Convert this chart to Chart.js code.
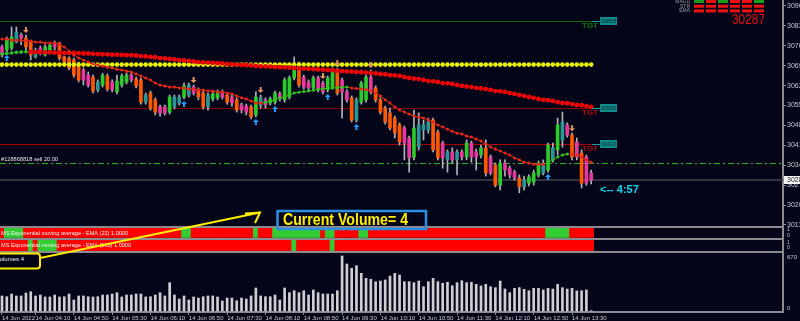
<!DOCTYPE html>
<html>
<head>
<meta charset="utf-8">
<script src="https://cdn.jsdelivr.net/npm/chart.js@4.4.1/dist/chart.umd.min.js"></script>
<style>
html, body { margin: 0; padding: 0; background: #05051a; overflow: hidden; width: 800px; height: 321px; }
#wrap { width: 815px; height: 321px; }
</style>
</head>
<body>
<div id="wrap"><canvas id="c" width="815" height="321"></canvas></div>
<script>
// M5 bars, 14 Jun 2022 03:35 .. 13:50
const opens = [
    30756, 30745, 30752, 30773, 30798, 30787, 30777, 30721, 30752, 30728,
    30745, 30770, 30770, 30721, 30717, 30710, 30693, 30675, 30657, 30650,
    30605, 30622, 30654, 30633, 30598, 30622, 30633, 30657, 30643, 30640,
    30562, 30594, 30570, 30545, 30545, 30527, 30545, 30559, 30580, 30587,
    30615, 30605, 30594, 30545, 30573, 30577, 30598, 30587, 30580, 30570,
    30552, 30548, 30545, 30517, 30552, 30570, 30559, 30562, 30591, 30570,
    30580, 30647, 30685, 30650, 30633, 30612, 30647, 30629, 30605, 30615,
    30675, 30640, 30598, 30577, 30499, 30562, 30570, 30650, 30612, 30570,
    30541, 30524, 30506, 30482, 30471, 30436, 30369, 30404, 30464, 30464,
    30499, 30457, 30418, 30359, 30387, 30359, 30387, 30369, 30418, 30387,
    30376, 30401, 30369, 30341, 30270, 30348, 30330, 30316, 30295, 30264,
    30277, 30281, 30306, 30313, 30323, 30359, 30394, 30429, 30482, 30446,
    30422, 30383, 30369, 30313
];
const highs = [
    30763, 30791, 30826, 30826, 30805, 30798, 30780, 30752, 30759, 30763,
    30770, 30777, 30773, 30724, 30721, 30717, 30703, 30682, 30668, 30657,
    30640, 30664, 30661, 30640, 30657, 30661, 30664, 30664, 30650, 30647,
    30594, 30601, 30577, 30552, 30552, 30587, 30587, 30587, 30629, 30629,
    30622, 30612, 30601, 30594, 30598, 30605, 30605, 30594, 30587, 30577,
    30559, 30555, 30552, 30598, 30587, 30577, 30580, 30601, 30598, 30647,
    30654, 30721, 30703, 30657, 30640, 30654, 30654, 30636, 30654, 30682,
    30682, 30647, 30605, 30584, 30577, 30636, 30657, 30675, 30619, 30577,
    30548, 30541, 30513, 30489, 30478, 30443, 30534, 30524, 30499, 30506,
    30506, 30464, 30425, 30394, 30401, 30394, 30394, 30429, 30425, 30397,
    30411, 30429, 30376, 30348, 30359, 30359, 30337, 30323, 30306, 30302,
    30306, 30323, 30355, 30359, 30418, 30418, 30506, 30527, 30489, 30453,
    30436, 30394, 30376, 30323
];
const lows = [
    30721, 30735, 30745, 30770, 30763, 30745, 30710, 30717, 30728, 30724,
    30738, 30745, 30710, 30693, 30675, 30650, 30633, 30622, 30615, 30594,
    30598, 30615, 30601, 30598, 30591, 30615, 30626, 30633, 30612, 30555,
    30555, 30534, 30517, 30513, 30517, 30520, 30538, 30552, 30573, 30580,
    30587, 30570, 30538, 30534, 30566, 30570, 30573, 30555, 30548, 30527,
    30524, 30517, 30503, 30510, 30541, 30541, 30552, 30555, 30566, 30562,
    30573, 30640, 30615, 30608, 30605, 30605, 30598, 30591, 30598, 30608,
    30587, 30506, 30562, 30492, 30492, 30555, 30562, 30591, 30562, 30520,
    30485, 30464, 30436, 30411, 30359, 30316, 30359, 30394, 30429, 30453,
    30387, 30359, 30330, 30316, 30348, 30306, 30359, 30359, 30351, 30323,
    30366, 30302, 30306, 30264, 30253, 30302, 30295, 30288, 30243, 30253,
    30267, 30270, 30299, 30306, 30316, 30351, 30376, 30404, 30439, 30359,
    30359, 30260, 30270, 30274
];
const closes = [
    30728, 30784, 30791, 30808, 30787, 30756, 30728, 30745, 30735, 30756,
    30763, 30756, 30717, 30703, 30682, 30657, 30640, 30640, 30622, 30601,
    30633, 30657, 30608, 30605, 30636, 30654, 30657, 30640, 30619, 30562,
    30587, 30541, 30527, 30524, 30524, 30580, 30580, 30580, 30619, 30622,
    30594, 30580, 30545, 30587, 30591, 30598, 30580, 30562, 30559, 30534,
    30534, 30527, 30510, 30580, 30577, 30552, 30573, 30594, 30573, 30640,
    30647, 30685, 30622, 30615, 30612, 30647, 30605, 30598, 30647, 30675,
    30594, 30598, 30570, 30499, 30570, 30629, 30650, 30598, 30570, 30527,
    30492, 30471, 30453, 30422, 30418, 30366, 30471, 30482, 30482, 30492,
    30394, 30366, 30366, 30387, 30359, 30387, 30369, 30418, 30369, 30369,
    30401, 30313, 30313, 30270, 30348, 30323, 30306, 30295, 30264, 30288,
    30299, 30313, 30348, 30348, 30411, 30401, 30482, 30492, 30446, 30369,
    30369, 30277, 30277, 30287
];
const volumes = [
    183, 174, 207, 183, 183, 219, 235, 183, 195, 171,
    171, 195, 171, 174, 207, 134, 183, 183, 174, 171,
    174, 195, 195, 207, 223, 171, 195, 195, 207, 207,
    171, 174, 195, 223, 183, 345, 195, 146, 183, 134,
    171, 158, 174, 183, 183, 171, 122, 158, 158, 125,
    158, 146, 183, 280, 183, 174, 174, 195, 134, 280,
    223, 247, 223, 247, 195, 256, 223, 207, 207, 207,
    247, 670, 572, 520, 552, 459, 398, 386, 357, 365,
    378, 426, 459, 438, 357, 357, 345, 365, 296, 357,
    398, 357, 337, 350, 308, 345, 369, 345, 350, 325,
    305, 325, 296, 284, 365, 268, 223, 276, 284, 264,
    247, 276, 276, 256, 276, 268, 325, 284, 268, 276,
    244, 247, 256, 4
];
// EMA (22) and slow EMA
const fastEma = [
    30784, 30784, 30780, 30780, 30780, 30777, 30777, 30773, 30773, 30770,
    30770, 30770, 30766, 30756, 30742, 30728, 30717, 30710, 30703, 30696,
    30693, 30689, 30685, 30682, 30678, 30675, 30671, 30668, 30661, 30654,
    30647, 30640, 30629, 30622, 30619, 30615, 30615, 30612, 30612, 30608,
    30608, 30605, 30605, 30601, 30601, 30598, 30598, 30594, 30591, 30584,
    30577, 30573, 30566, 30559, 30559, 30562, 30566, 30570, 30577, 30580,
    30587, 30594, 30597, 30599, 30601, 30604, 30607, 30609, 30611, 30612,
    30613, 30614, 30615, 30612, 30610, 30608, 30606, 30601, 30594, 30584,
    30570, 30559, 30545, 30534, 30527, 30520, 30513, 30510, 30506, 30499,
    30492, 30482, 30475, 30467, 30460, 30453, 30450, 30443, 30439, 30432,
    30425, 30415, 30404, 30397, 30390, 30383, 30376, 30366, 30359, 30351,
    30348, 30344, 30344, 30344, 30348, 30359, 30369, 30376, 30380, 30380,
    30376, 30369, 30359, 30351
];
const slowEma = [
    30731, 30733, 30735, 30737, 30738, 30739, 30739, 30738, 30738, 30737,
    30737, 30736, 30736, 30735, 30735, 30735, 30734, 30733, 30733, 30732,
    30731, 30730, 30730, 30729, 30729, 30728, 30727, 30727, 30726, 30724,
    30723, 30721, 30720, 30717, 30716, 30714, 30712, 30710, 30709, 30707,
    30705, 30703, 30702, 30701, 30700, 30699, 30698, 30696, 30695, 30694,
    30693, 30692, 30691, 30689, 30688, 30688, 30687, 30685, 30685, 30684,
    30683, 30682, 30681, 30680, 30679, 30678, 30677, 30676, 30675, 30674,
    30673, 30671, 30670, 30669, 30668, 30667, 30666, 30664, 30663, 30661,
    30660, 30657, 30656, 30654, 30650, 30647, 30645, 30643, 30640, 30636,
    30635, 30633, 30629, 30628, 30626, 30622, 30619, 30617, 30615, 30612,
    30610, 30608, 30605, 30601, 30600, 30598, 30594, 30591, 30587, 30584,
    30580, 30577, 30573, 30570, 30569, 30566, 30562, 30559, 30558, 30555,
    30552, 30551, 30548, 30545
];
const yellowLevel = 30694;

// bars where the two EMA strips turn green
const ema22Up = [1, 2, 3, 4, 38, 39, 53, 57, 58, 59, 60, 61, 62, 63, 64, 65, 66, 68, 69, 75, 76, 114, 115, 116, 117, 118];
const ema100Up = [6, 8, 9, 10, 11, 61, 69];

// arrow signals
const buyBars = [1, 38, 53, 57, 68, 74, 114];
const sellBars = [5, 40, 54, 67, 70, 77, 119];

// objects on the chart
const tgtLevels = [30847, 30541, 30415];
const tgtLabels = ['30858', '30550', '30422'];
const orderLevel = 30348;
const orderText = '#128868818 sell 20.00';
const timerText = '<-- 4:57';

// dashboard top right
const dashNames = ['MACD', 'STR', 'EMA'];
const dashRows = [
    [1, 0, 1, 0, 0, 1],
    [0, 0, 0, 0, 0, 0],
    [0, 0, 0, 0, 0, 0]
];

const priceTicks = [30900, 30830, 30760, 30690, 30620, 30550, 30480, 30410, 30340, 30270, 30200, 30130];
const tickIdx = [0, 7, 15, 23, 31, 39, 47, 55, 63, 71, 79, 87, 95, 103, 111, 119];
const timeLabels = ['14 Jun 2022', '14 Jun 04:10', '14 Jun 04:50', '14 Jun 05:30', '14 Jun 06:10',
    '14 Jun 06:50', '14 Jun 07:30', '14 Jun 08:10', '14 Jun 08:50', '14 Jun 09:30', '14 Jun 10:10',
    '14 Jun 10:50', '14 Jun 11:30', '14 Jun 12:10', '14 Jun 12:50', '14 Jun 13:30'];

const BG = '#05051a';
const plotH = 312;
const barPx = 4.79;
const plotW = 783;

function bandScale(top, bottom, lo, hi) {
    const per = (hi - lo) / (bottom - top);
    return { min: lo - (plotH - bottom) * per, max: hi + top * per };
}

const idx = opens.map((_, i) => i);
const lastClose = closes[closes.length - 1];
const lastVol = volumes[volumes.length - 1];

function rising(arr, i) {
    return i === 0 ? arr[1] > arr[0] : arr[i] > arr[i - 1];
}

function bodyColor(i) {
    const p = i > 0 ? i - 1 : 0;
    if (closes[i] >= opens[i]) {
        return (i > 0 && closes[i] > highs[p] - 5) ? '#2ccb2c' : '#2a9696';
    }
    return (i > 0 && closes[i] < lows[p]) ? '#ff5a00' : '#e6389e';
}

function hline(c, x0, x1, y, color, w, dash) {
    c.save();
    c.strokeStyle = color;
    c.lineWidth = w;
    c.setLineDash(dash || []);
    c.beginPath();
    const yy = Math.round(y) + (w % 2 ? 0.5 : 0);
    c.moveTo(x0, yy);
    c.lineTo(x1, yy);
    c.stroke();
    c.restore();
}

function txt(c, s, x, y, font, color, align, maxW) {
    c.save();
    c.font = font;
    c.fillStyle = color;
    c.textAlign = align || 'left';
    c.textBaseline = 'middle';
    if (maxW) c.fillText(s, x, y, maxW); else c.fillText(s, x, y);
    c.restore();
}

function arrowUp(c, x, y, col) {
    c.fillStyle = col;
    c.beginPath();
    c.moveTo(x, y);
    c.lineTo(x + 3, y + 3);
    c.lineTo(x + 1, y + 3);
    c.lineTo(x + 1, y + 6);
    c.lineTo(x - 1, y + 6);
    c.lineTo(x - 1, y + 3);
    c.lineTo(x - 3, y + 3);
    c.closePath();
    c.fill();
}

function arrowDown(c, x, y, col) {
    c.fillStyle = col;
    c.beginPath();
    c.moveTo(x, y);
    c.lineTo(x + 3, y - 3);
    c.lineTo(x + 1, y - 3);
    c.lineTo(x + 1, y - 6);
    c.lineTo(x - 1, y - 6);
    c.lineTo(x - 1, y - 3);
    c.lineTo(x - 3, y - 3);
    c.closePath();
    c.fill();
}

const decor = {
    id: 'decor',
    beforeDraw(chart) {
        const c = chart.ctx;
        c.save();
        c.fillStyle = BG;
        c.fillRect(0, 0, chart.width, chart.height);
        c.restore();
    },
    beforeDatasetsDraw(chart) {
        const c = chart.ctx, ys = chart.scales.y, a = chart.chartArea;
        const tgtColors = ['#0a6a0a', '#8a0000', '#a80000'];
        tgtLevels.forEach((v, k) => hline(c, a.left, 600, ys.getPixelForValue(v), tgtColors[k], 1));
        hline(c, a.left, a.right, ys.getPixelForValue(orderLevel), '#22b422', 1, [6, 3, 2, 3]);
        hline(c, a.left, a.right, ys.getPixelForValue(lastClose), '#34343e', 2);
    },
    afterDatasetsDraw(chart) {
        const c = chart.ctx, ys = chart.scales.y, xs = chart.scales.x, a = chart.chartArea;
        const yv = chart.scales.yVol, s1 = chart.scales.yS1, s2 = chart.scales.yS2;

        // signal arrows
        buyBars.forEach(i => arrowUp(c, xs.getPixelForValue(i), ys.getPixelForValue(lows[i]) + 2, '#1e9bff'));
        sellBars.forEach(i => arrowDown(c, xs.getPixelForValue(i), ys.getPixelForValue(highs[i]) - 2, '#e0935e'));

        // target labels
        const tgtText = ['#0a7a0a', '#b00000', '#b00000'];
        tgtLevels.forEach((v, k) => {
            const y = Math.round(ys.getPixelForValue(v));
            hline(c, 592, 600, y, '#1aa0a0', 1);
            c.fillStyle = '#0f8c8c';
            c.fillRect(600, y - 4, 17, 8);
            txt(c, tgtLabels[k], 608.5, y + 0.5, '6px "Liberation Sans"', '#02282a', 'center', 16);
            txt(c, 'TGT', 582, y + 5, 'bold 8px "Liberation Sans"', tgtText[k], 'left', 16);
        });

        // order line text and timer
        txt(c, orderText, 1, ys.getPixelForValue(orderLevel) - 3.5, '6px "Liberation Sans"', '#e4e4e4', 'left', 57);
        txt(c, timerText, 600, 190, 'bold 11px "Liberation Sans"', '#08d8f0', 'left', 42);

        // panel separators
        [227, 238.5, 252].forEach(y => hline(c, a.left, a.right, y, '#8a8a90', 2));

        // strip captions
        txt(c, 'MS Exponential moving average - EMA (22) 1.0000', 1, 233, '6px "Liberation Sans"', '#f2f2f2', 'left', 127);
        txt(c, 'MS Exponential moving average - EMA (100) 1.0000', 1, 245.5, '6px "Liberation Sans"', '#f2f2f2', 'left', 130);
        txt(c, 'Volumes ' + lastVol, -4, 259, '6px "Liberation Sans"', '#f2f2f2', 'left', 30);

        // right side labels of lower panels
        const rx = a.right + 4;
        txt(c, '1', rx, s1.getPixelForValue(1) + 2, '5px "Liberation Sans"', '#c8c8c8');
        txt(c, '0', rx, s1.getPixelForValue(0) - 2, '5px "Liberation Sans"', '#c8c8c8');
        txt(c, '1', rx, s2.getPixelForValue(1) + 3, '5px "Liberation Sans"', '#c8c8c8');
        txt(c, '0', rx, s2.getPixelForValue(0) - 3, '5px "Liberation Sans"', '#c8c8c8');
        txt(c, '670', rx, yv.getPixelForValue(670) + 1, '6px "Liberation Sans"', '#c8c8c8');
        txt(c, '0', rx, yv.getPixelForValue(0) - 3, '6px "Liberation Sans"', '#c8c8c8');

        // current price box on the axis
        const cy = Math.round(ys.getPixelForValue(lastClose));
        c.fillStyle = '#f4f4f4';
        c.fillRect(a.right + 1, cy - 4, 40, 8);
        txt(c, String(lastClose), rx, cy, '7px "Liberation Sans"', '#202020');

        // dashboard
        dashNames.forEach((n, r) => {
            txt(c, n, 690, 1.5 + r * 4.7, '5px "Liberation Sans"', '#9a9aa0', 'right');
            dashRows[r].forEach((on, k) => {
                c.fillStyle = on ? '#1c9c1c' : '#ee1010';
                c.fillRect(694 + k * 12, r * 4.7, 10, 3);
            });
        });
        txt(c, String(lastClose), 765, 20.5, '14px "Liberation Sans"', '#e81212', 'right', 33);

        // annotation: volume callout
        c.save();
        c.strokeStyle = '#ffee00';
        c.lineWidth = 2;
        c.beginPath();
        c.roundRect(-6, 253.5, 46, 15, 3);
        c.stroke();
        c.beginPath();
        c.moveTo(40, 258);
        c.lineTo(260, 212.5);
        c.moveTo(245, 213.5);
        c.lineTo(260, 212.5);
        c.lineTo(255, 223);
        c.stroke();
        c.strokeStyle = '#2a8fe0';
        c.lineWidth = 2.5;
        c.strokeRect(277.5, 211, 148.5, 18);
        c.restore();
        txt(c, 'Current Volume= ' + lastVol, 283, 220.5, 'bold 16px "Liberation Sans"', '#ffee00', 'left', 125);
    }
};

const priceBand = bandScale(6, 225, 30130, 30900);
const volBand = bandScale(256, 311, 0, 670);
const s1Band = bandScale(228, 237.5, 0, 1);
const s2Band = bandScale(239.5, 251, 0, 1);
const xMin = -2 / barPx;

new Chart(document.getElementById('c'), {
    type: 'bar',
    data: {
        datasets: [
            {
                type: 'line',
                data: idx.map(i => ({ x: i, y: fastEma[i] })),
                yAxisID: 'y',
                borderWidth: 1,
                segment: {
                    borderColor: ctx => fastEma[ctx.p1DataIndex] > fastEma[ctx.p0DataIndex] ? '#6aa600' : '#c24800'
                },
                pointRadius: 1.5,
                pointBorderWidth: 0,
                pointBackgroundColor: ctx => rising(fastEma, ctx.dataIndex) ? '#22cc22' : '#ff1c1c',
                order: 1
            },
            {
                type: 'line',
                data: idx.map(i => ({ x: i, y: slowEma[i] })),
                yAxisID: 'y',
                borderWidth: 1,
                segment: {
                    borderColor: ctx => slowEma[ctx.p1DataIndex] > slowEma[ctx.p0DataIndex] ? '#2a9a2a' : '#b40000'
                },
                pointRadius: ctx => rising(slowEma, ctx.dataIndex) ? 1.8 : 2.4,
                pointBorderWidth: 0,
                pointBackgroundColor: ctx => rising(slowEma, ctx.dataIndex) ? '#2ac42a' : '#f00000',
                order: 2
            },
            {
                type: 'line',
                data: idx.map(i => ({ x: i, y: yellowLevel })),
                yAxisID: 'y',
                borderColor: '#a6b000',
                borderWidth: 1,
                pointRadius: 2.3,
                pointBorderWidth: 0,
                pointBackgroundColor: '#e6f000',
                order: 3
            },
            {
                data: idx.map(i => ({ x: i, y: [opens[i], closes[i]] })),
                yAxisID: 'y',
                backgroundColor: ctx => bodyColor(ctx.dataIndex),
                borderWidth: 0,
                barThickness: 3,
                grouped: false,
                order: 8
            },
            {
                data: idx.map(i => ({ x: i, y: [lows[i], highs[i]] })),
                yAxisID: 'y',
                backgroundColor: '#b4b4b8',
                borderWidth: 0,
                barThickness: 1,
                grouped: false,
                order: 9
            },
            {
                data: idx.map(i => ({ x: i, y: volumes[i] })),
                yAxisID: 'yVol',
                backgroundColor: '#cfcfd2',
                borderWidth: 0,
                barThickness: 2,
                grouped: false,
                order: 7
            },
            {
                data: idx.map(i => ({ x: i, y: [0, 1] })),
                yAxisID: 'yS1',
                backgroundColor: ctx => ema22Up.includes(ctx.dataIndex) ? '#33cc33' : '#ff0000',
                borderWidth: 0,
                barThickness: 5,
                grouped: false,
                order: 6
            },
            {
                data: idx.map(i => ({ x: i, y: [0, 1] })),
                yAxisID: 'yS2',
                backgroundColor: ctx => ema100Up.includes(ctx.dataIndex) ? '#33cc33' : '#ff0000',
                borderWidth: 0,
                barThickness: 5,
                grouped: false,
                order: 6
            }
        ]
    },
    options: {
        responsive: false,
        animation: false,
        devicePixelRatio: 1,
        events: [],
        layout: { padding: 0, autoPadding: false },
        plugins: { legend: { display: false }, tooltip: { enabled: false } },
        scales: {
            x: {
                type: 'linear',
                position: 'bottom',
                offset: false,
                min: xMin,
                max: xMin + plotW / barPx,
                grid: { display: true, drawOnChartArea: false, drawTicks: true, tickLength: 3, color: '#8a8a90', offset: false },
                border: { display: true, color: '#8a8a90', width: 2 },
                afterBuildTicks: s => { s.ticks = tickIdx.map(v => ({ value: v })); },
                afterFit: s => { s.height = 9; s.paddingLeft = 0; s.paddingRight = 0; },
                ticks: {
                    autoSkip: false,
                    maxRotation: 0,
                    align: 'start',
                    padding: 0,
                    color: '#c8c8cc',
                    font: { family: 'Liberation Sans', size: 6 },
                    callback: v => timeLabels[tickIdx.indexOf(v)]
                }
            },
            y: {
                position: 'right',
                min: priceBand.min,
                max: priceBand.max,
                beginAtZero: false,
                grid: { display: true, drawOnChartArea: false, drawTicks: true, tickLength: 3, color: '#8a8a90' },
                border: { display: true, color: '#8a8a90', width: 2 },
                afterBuildTicks: s => { s.ticks = priceTicks.map(v => ({ value: v })); },
                afterFit: s => { s.width = 32; s.paddingTop = 0; s.paddingBottom = 0; },
                ticks: {
                    autoSkip: false,
                    padding: 1,
                    color: '#c8c8cc',
                    font: { family: 'Liberation Sans', size: 7 },
                    callback: v => String(v)
                }
            },
            yVol: { display: false, position: 'right', min: volBand.min, max: volBand.max, beginAtZero: false },
            yS1: { display: false, position: 'right', min: s1Band.min, max: s1Band.max, beginAtZero: false },
            yS2: { display: false, position: 'right', min: s2Band.min, max: s2Band.max, beginAtZero: false }
        }
    },
    plugins: [decor]
});
</script>
</body>
</html>
